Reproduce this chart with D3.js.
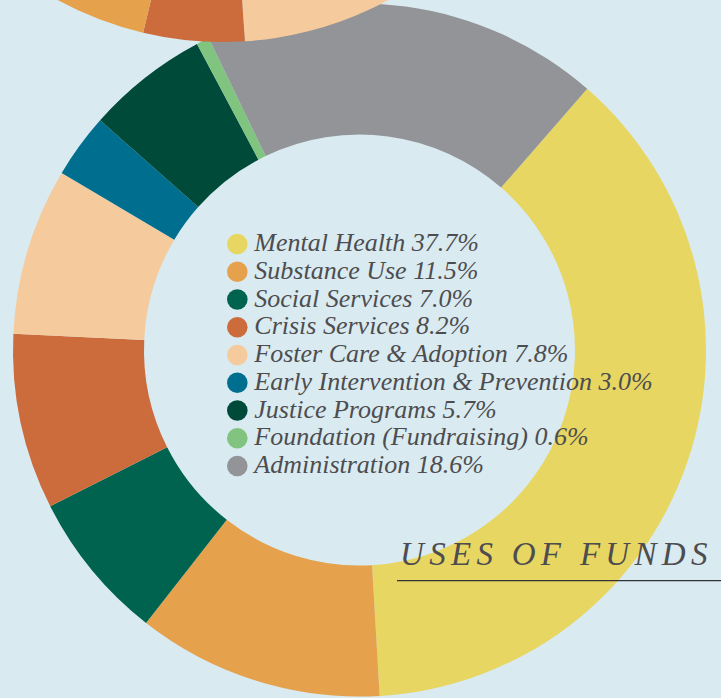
<!DOCTYPE html>
<html>
<head>
  <meta charset="utf-8">
  <title>Uses of Funds</title>
  <script src="https://d3js.org/d3.v7.min.js"></script>
  <style>
    html, body { margin: 0; padding: 0; background: #d9eaf1; overflow: hidden; }
  </style>
</head>
<body>

  <svg></svg>

  <script>

    // Uses of funds (percent)
    var categories = ["Mental Health", "Substance Use", "Social Services", "Crisis Services",
                      "Foster Care & Adoption", "Early Intervention & Prevention",
                      "Justice Programs", "Foundation (Fundraising)", "Administration"];
    var values = [37.7, 11.5, 7.0, 8.2, 7.8, 3.0, 5.7, 0.6, 18.6];
    var labels = ["37.7%", "11.5%", "7.0%", "8.2%", "7.8%", "3.0%", "5.7%", "0.6%", "18.6%"];
    var colors = ["#e8d662", "#e5a14c", "#00634f", "#cc6c3c", "#f5cb9e",
                  "#006f8f", "#004a3a", "#80c480", "#939498"];

    // bottom edge of the neighbouring donut that is cut off at the top of the page
    var upperValues = [24.0, 4.7, 12.0, 59.3];
    var upperColors = ["#f5cb9e", "#cc6c3c", "#e5a14c", "#939498"];

    var width = 721, height = 698;
    var cx = 359.5, cy = 350;
    var outerR = 346.5, innerR = 215.5;

    var svg = d3.select("svg")
        .attr("width", width)
        .attr("height", height);

    svg.append("rect")
        .attr("width", width)
        .attr("height", height)
        .attr("fill", "#d9eaf1");

    var arc = d3.arc().innerRadius(innerR).outerRadius(outerR);

    // main donut
    var start = 0.717;
    var pie = d3.pie()
        .sort(null)
        .startAngle(start)
        .endAngle(start + 2 * Math.PI);

    var g = svg.append("g")
        .attr("transform", "translate(" + cx + "," + cy + ")");

    g.selectAll("path")
        .data(pie(values))
      .enter().append("path")
        .attr("d", arc)
        .attr("fill", function(d, i) { return colors[i]; });

    // the other donut above, only its lower rim shows
    var upperPie = d3.pie()
        .sort(null)
        .startAngle(Math.PI / 2)
        .endAngle(Math.PI / 2 + 2 * Math.PI);

    var up = svg.append("g")
        .attr("transform", "translate(223,-304.5)");

    up.selectAll("path")
        .data(upperPie(upperValues))
      .enter().append("path")
        .attr("d", arc)
        .attr("fill", function(d, i) { return upperColors[i]; });

    // legend in the hole
    var legend = svg.append("g")
        .attr("transform", "translate(237.3,244)");

    var rows = legend.selectAll("g")
        .data(categories)
      .enter().append("g")
        .attr("transform", function(d, i) { return "translate(0," + (i * 27.75) + ")"; });

    rows.append("circle")
        .attr("r", 10.3)
        .attr("fill", function(d, i) { return colors[i]; });

    rows.append("text")
        .attr("x", 17)
        .attr("y", 7)
        .style("font-family", "'Liberation Serif', serif")
        .style("font-style", "italic")
        .style("font-size", "26px")
        .attr("fill", "#4d4d4f")
        .text(function(d, i) { return d + " " + labels[i]; });

    // title
    svg.append("text")
        .attr("x", 400)
        .attr("y", 565)
        .style("font-family", "'Liberation Serif', serif")
        .style("font-style", "italic")
        .style("font-size", "33px")
        .style("letter-spacing", "5.3px")
        .attr("fill", "#4d4d4f")
        .text("USES OF FUNDS");

    svg.append("line")
        .attr("x1", 397)
        .attr("x2", width)
        .attr("y1", 580.7)
        .attr("y2", 580.7)
        .attr("stroke", "#333")
        .attr("stroke-width", 1.3);

  </script>

</body>
</html>
